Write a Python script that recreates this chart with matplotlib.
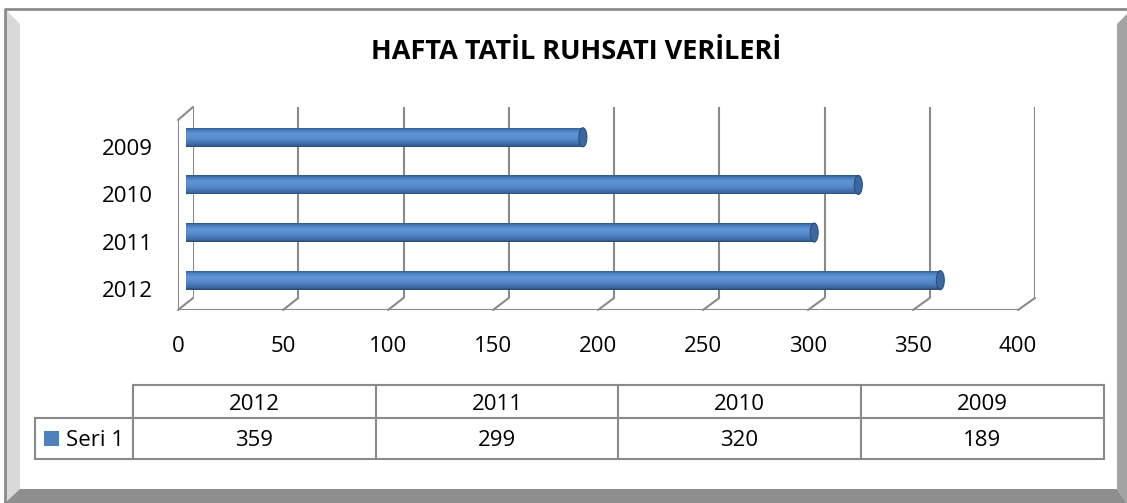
import matplotlib
matplotlib.use('Agg')
import matplotlib.pyplot as plt
from matplotlib.patches import Polygon, Rectangle, Ellipse, ConnectionPatch
from matplotlib.colors import LinearSegmentedColormap
from matplotlib.transforms import ScaledTranslation

# ---- data ----
title = 'HAFTA TATİL RUHSATI VERİLERİ'
years = ['2012', '2011', '2010', '2009']
values = [359, 299, 320, 189]
series_name = 'Seri 1'
xticks = [0, 50, 100, 150, 200, 250, 300, 350, 400]

W, H = 1127, 503
plt.rcParams['font.family'] = ['Open Sans', 'DejaVu Sans']
fig = plt.figure(figsize=(W / 100, H / 100), dpi=100)

bg = fig.add_axes([0, 0, 1, 1])
bg.set_xlim(0, W)
bg.set_ylim(H, 0)
bg.axis('off')

# ---- frame (beveled border) ----
bg.add_patch(Rectangle((0, 0), W, H, color='white', zorder=0))
bg.add_patch(Polygon([(5, 9), (20, 24), (20, 489), (5, 503)], closed=True, color='#d9d9d9', lw=0))
bg.add_patch(Polygon([(1117, 24), (1127, 14), (1127, 503), (1117, 489)], closed=True, color='#a3a3a3', lw=0))
bg.add_patch(Polygon([(5, 503), (20, 489), (1117, 489), (1127, 503)], closed=True, color='#8e8e8e', lw=0))
bg.plot([4.5, 4.5, W], [H, 9, 9], color='#8c8c8c', lw=2, solid_capstyle='butt')


def rect(l, t, r, b):
    return [l / W, 1 - b / H, (r - l) / W, (b - t) / H]


ax_back = fig.add_axes(rect(193, 107, 1035, 298))
ax_front = fig.add_axes(rect(178, 120, 1018, 310))
ax_mid = fig.add_axes(rect(185.5, 113.5, 1026.5, 304))
ax_mid.set_zorder(5)
n = len(years)
for a in (ax_back, ax_front, ax_mid):
    a.set_xlim(0, 400)
    a.set_ylim(-0.5, n - 0.5)
    a.patch.set_visible(False)
    for s in a.spines.values():
        s.set_visible(False)
    a.set_xticks([])
    a.set_yticks([])

gc = '#8a8a8a'
glw = 1.5
# back wall gridlines
ax_back.vlines(xticks, -0.5, n - 0.5, color=gc, lw=glw)
# floor front edge and left wall front edge
ax_front.hlines(-0.5, 0, 400, color=gc, lw=glw)
ax_front.vlines(0, -0.5, n - 0.5, color=gc, lw=glw)
# depth connectors
for t in xticks:
    fig.add_artist(ConnectionPatch((t, -0.5), (t, -0.5), coordsA=ax_back.transData,
                                   coordsB=ax_front.transData, color=gc, lw=glw, zorder=1))
fig.add_artist(ConnectionPatch((0, n - 0.5), (0, n - 0.5), coordsA=ax_back.transData,
                               coordsB=ax_front.transData, color=gc, lw=glw, zorder=1))

# tick labels on the front plane
ax_front.set_xticks(xticks, [str(t) for t in xticks])
ax_front.set_yticks(range(n), years)
ax_front.tick_params(axis='x', length=0, pad=19, labelsize=16)
ax_front.tick_params(axis='y', length=0, pad=18, labelsize=16)
shift = ScaledTranslation(0, -0.03, fig.dpi_scale_trans)
for lab in ax_front.get_yticklabels():
    lab.set_transform(lab.get_transform() + shift)

# ---- cylinders ----
cmap = LinearSegmentedColormap.from_list('cyl', [
    (0.0, '#2e5789'), (0.12, '#4a7dbd'), (0.35, '#5f95d8'),
    (0.6, '#5488cb'), (0.85, '#3f6ca6'), (1.0, '#2a4c7a')])
bh = 0.4
N = 30
capw = 3.8
for i, (yr, v) in enumerate(zip(years, values)):
    ax_mid.add_patch(Ellipse((0, i), capw * 1.6, bh, color='#4c7fbf', lw=0, zorder=1))
    for k in range(N):
        yc = i + bh / 2 - (k + 0.5) * bh / N
        ax_mid.barh(yc, v, height=bh / N * 1.05, left=0, color=cmap((k + 0.5) / N), lw=0, zorder=2)
    ax_mid.add_patch(Ellipse((v, i), capw, bh, facecolor='#3c679f', edgecolor='#2b4d7c', lw=0.8, zorder=3))

# ---- title ----
bg.text(576, 59, title, ha='center', va='baseline', fontsize=19.5, fontweight='bold', color='black')

# ---- data table ----
tc = '#8a8a8a'
col_edges = [133, 376, 618, 861, 1104]
y_top, y_mid, y_bot = 385, 418, 459
bg.plot([col_edges[0], col_edges[-1]], [y_top, y_top], color=tc, lw=1.5)
bg.plot([35, col_edges[-1]], [y_mid, y_mid], color=tc, lw=1.5)
bg.plot([35, col_edges[-1]], [y_bot, y_bot], color=tc, lw=1.5)
bg.plot([35, 35], [y_mid, y_bot], color=tc, lw=1.5)
for x in col_edges:
    bg.plot([x, x], [y_top, y_bot], color=tc, lw=1.5)
for j, (yr, v) in enumerate(zip(years, values)):
    cx = (col_edges[j] + col_edges[j + 1]) / 2
    bg.text(cx, 410, yr, ha='center', va='baseline', fontsize=16)
    bg.text(cx, 446, str(v), ha='center', va='baseline', fontsize=16)
bg.add_patch(Rectangle((44, 431), 15, 15, color='#4f81bd', lw=0))
bg.text(66, 446, series_name, ha='left', va='baseline', fontsize=16)

fig.savefig('out.png', dpi=100)
